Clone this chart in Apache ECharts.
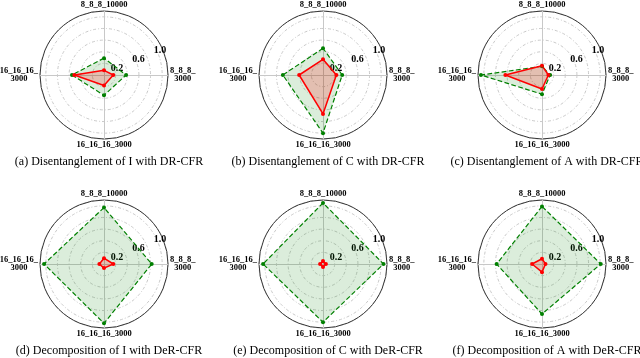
<!DOCTYPE html>
<html>
<head>
<meta charset="utf-8">
<script src="https://cdn.jsdelivr.net/npm/echarts@6/dist/echarts.min.js"></script>
<style>
  html, body { margin: 0; padding: 0; background: #fff; }
  #chart { width: 640px; height: 358px; }
</style>
</head>
<body>
<div id="chart"></div>
<script>
// axis names, counterclockwise from the top
const axisNames = ['8_8_8_10000', '16_16_16_\n3000', '16_16_16_3000', '8_8_8_\n3000']
const captions = [
  '(a) Disentanglement of I with DR-CFR',
  '(b) Disentanglement of C with DR-CFR',
  '(c) Disentanglement of A with DR-CFR',
  '(d) Decomposition of I with DeR-CFR',
  '(e) Decomposition of C with DeR-CFR',
  '(f) Decomposition of A with DeR-CFR'
]
const rTickLabels = ['0.2', '0.6', '1.0']

// values per panel, same order as axisNames
const greenA = [0.29, 0.55, 0.35, 0.38]
const redA = [0.08, 0.51, 0.18, 0.16]
const greenB = [0.46, 0.69, 1.0, 0.33]
const redB = [0.27, 0.41, 0.67, 0.23]
const greenC = [0.15, 1.05, 0.33, 0.14]
const redC = [0.16, 0.63, 0.24, 0.11]
const greenD = [0.97, 1.03, 1.02, 0.82]
const redD = [0.10, 0.08, 0.07, 0.16]
const greenE = [1.05, 1.03, 1.0, 1.04]
const redE = [0.05, 0.05, 0.05, 0.05]
const greenF = [0.99, 0.78, 0.86, 1.01]
const redF = [0.09, 0.17, 0.14, 0.06]

const greens = [greenA, greenB, greenC, greenD, greenE, greenF]
const reds = [redA, redB, redC, redD, redE, redF]

const centers = [[104, 75], [323, 75], [542, 75], [104, 264], [323, 264], [542, 264]]
const R = 64
const serif = 'Liberation Serif'

const chart = echarts.init(document.getElementById('chart'))

const radar = []
const polar = []
const angleAxis = []
const radiusAxis = []
const series = []
const title = []

centers.forEach((c, i) => {
    radar.push({
        center: c,
        radius: R,
        startAngle: 90,
        indicator: axisNames.map(n => ({ name: n, min: 0, max: 1.1 })),
        nameGap: 2,
        axisName: {
            color: '#000', fontFamily: serif, fontWeight: 'bold', fontSize: 8.5, lineHeight: 8,
            // centre each line of a two-line name under the other
            formatter: n => n.split('\n').map(s => '{c|' + s + '}').join('\n'),
            rich: { c: { align: 'center', color: '#000', fontFamily: serif, fontWeight: 'bold', fontSize: 8.5, lineHeight: 8 } }
        },
        splitLine: { show: false },
        splitArea: { show: false },
        axisLine: { lineStyle: { color: '#c8c8c8', width: 1 } },
        axisTick: { show: false },
        axisLabel: { show: false }
    })
    polar.push({ center: c, radius: R })
    angleAxis.push({
        polarIndex: i,
        type: 'value',
        min: 0,
        max: 360,
        startAngle: 22.5,
        axisLine: { lineStyle: { color: '#333', width: 1 } },
        axisTick: { show: false },
        axisLabel: { show: false },
        splitLine: { show: false }
    })
    radiusAxis.push({
        polarIndex: i,
        type: 'value',
        min: 0,
        max: 1.1,
        interval: 0.2,
        axisLine: { show: false },
        axisTick: { show: false },
        splitLine: { lineStyle: { color: '#bbb', type: [3, 2, 1, 2], width: 0.8 } },
        axisLabel: {
            color: '#000',
            fontFamily: serif,
            fontWeight: 'bold',
            fontSize: 10,
            margin: 2,
            align: 'center',
            verticalAlign: 'middle',
            padding: [0, 0, 0, 6],
            formatter: v => rTickLabels.includes(v.toFixed(1)) && Math.abs(v - 1.1) > 0.01 ? v.toFixed(1) : ''
        }
    })
    series.push({
        type: 'radar',
        radarIndex: i,
        symbol: 'circle',
        symbolSize: 4,
        data: [
            {
                value: greens[i],
                name: 'green',
                lineStyle: { color: '#008000', type: 'dashed', width: 1.2 },
                itemStyle: { color: '#008000' },
                areaStyle: { color: 'rgba(0,128,0,0.2)' }
            },
            {
                value: reds[i],
                name: 'red',
                lineStyle: { color: '#ff0000', width: 1.5 },
                itemStyle: { color: '#ff0000' },
                areaStyle: { color: 'rgba(255,0,0,0.28)' }
            }
        ]
    })
    title.push({
        text: captions[i],
        left: c[0],
        top: c[1] + 76,
        textAlign: 'center',
        textStyle: { fontFamily: serif, fontWeight: 'normal', fontSize: 12, color: '#000' }
    })
})

const options = {
    animation: false,
    title: title,
    radar: radar,
    polar: polar,
    angleAxis: angleAxis,
    radiusAxis: radiusAxis,
    series: series
}

chart.setOption(options)
</script>
</body>
</html>
